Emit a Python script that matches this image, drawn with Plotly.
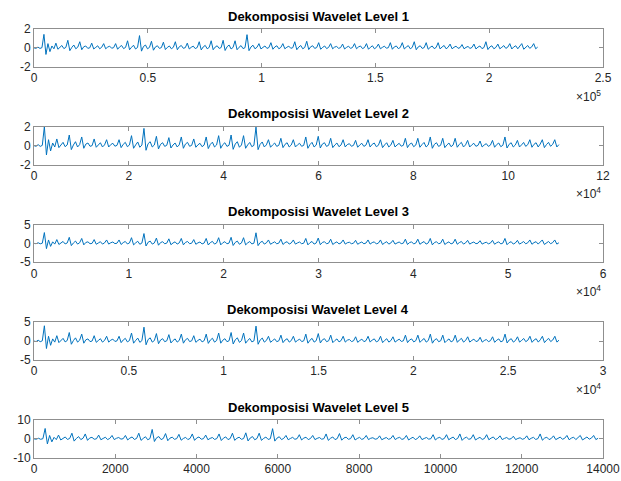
import numpy as np
import plotly.graph_objects as go

# ---------------- data ----------------
level1_samples = 221300
level1_values = [
    0.0, -0.05, 0.08, -0.06, 0.02,
    1.43, -0.7, 0.45, -0.4, 0.2, -0.1,
    0.5, -0.15, 0.1, 0.25, -0.08, 0.05,
    0.8, -0.3, 0.05, 0.3, -0.1, 0.08,
    0.65, -0.2, 0.12, 0.2, -0.05, 0.0,
    0.5, -0.12, 0.05, 0.22, -0.1, 0.06,
    0.45, -0.1, 0.08, 0.18, -0.04, 0.02,
    0.45, -0.15, 0.1, 0.25, -0.08, 0.05,
    0.75, -0.2, 0.06, 0.28, -0.12, 0.04,
    1.3, -0.35, 0.15, 0.3, -0.1, 0.05,
    0.7, -0.25, 0.1, 0.22, -0.06, 0.03,
    0.6, -0.18, 0.05, 0.2, -0.1, 0.06,
    0.65, -0.2, 0.12, 0.25, -0.05, 0.02,
    0.5, -0.12, 0.06, 0.18, -0.08, 0.04,
    0.65, -0.22, 0.1, 0.26, -0.1, 0.05,
    0.75, -0.2, 0.08, 0.22, -0.06, 0.03,
    0.8, -0.28, 0.12, 0.3, -0.12, 0.05,
    0.75, -0.2, 0.06, 0.24, -0.08, 0.02,
    1.4, -0.3, 0.1, 0.28, -0.1, 0.06,
    0.45, -0.12, 0.05, 0.2, -0.06, 0.03,
    0.55, -0.15, 0.1, 0.22, -0.1, 0.05,
    0.45, -0.1, 0.06, 0.18, -0.05, 0.02,
    0.65, -0.2, 0.08, 0.25, -0.1, 0.04,
    0.7, -0.18, 0.12, 0.22, -0.06, 0.03,
    0.55, -0.15, 0.05, 0.2, -0.08, 0.05,
    0.45, -0.1, 0.08, 0.15, -0.05, 0.02,
    0.4, -0.12, 0.05, 0.18, -0.06, 0.04,
    0.45, -0.1, 0.1, 0.2, -0.08, 0.03,
    0.45, -0.15, 0.06, 0.22, -0.1, 0.05,
    0.4, -0.1, 0.05, 0.18, -0.04, 0.02,
    0.55, -0.15, 0.1, 0.2, -0.08, 0.04,
    0.55, -0.12, 0.08, 0.24, -0.1, 0.05,
    0.65, -0.2, 0.1, 0.22, -0.06, 0.03,
    0.55, -0.15, 0.05, 0.2, -0.08, 0.04,
    0.55, -0.12, 0.1, 0.25, -0.1, 0.06,
    0.4, -0.1, 0.06, 0.18, -0.05, 0.02,
    0.35, -0.1, 0.05, 0.15, -0.06, 0.04,
    0.4, -0.12, 0.08, 0.2, -0.08, 0.03,
    0.65, -0.18, 0.1, 0.22, -0.1, 0.05,
    0.4, -0.1, 0.06, 0.24, -0.06, 0.08,
    0.45, -0.12, 0.1, 0.22, -0.1, 0.12,
    0.45, -0.15, 0.08, 0.25, -0.05, 0.1,
    0.45, -0.1, 0.08,
]

level2_samples = 110700
level2_values = [
    0.0, -0.07, 0.11, -0.08, 0.03,
    2.02, -0.99, 0.63, -0.56, 0.28, -0.14,
    0.71, -0.21, 0.14, 0.35, -0.11, 0.07,
    1.13, -0.42, 0.07, 0.42, -0.14, 0.11,
    0.92, -0.28, 0.17, 0.28, -0.07, 0.0,
    0.71, -0.17, 0.07, 0.31, -0.14, 0.08,
    0.63, -0.14, 0.11, 0.25, -0.06, 0.03,
    0.63, -0.21, 0.14, 0.35, -0.11, 0.07,
    1.06, -0.28, 0.08, 0.39, -0.17, 0.06,
    1.83, -0.49, 0.21, 0.42, -0.14, 0.07,
    0.99, -0.35, 0.14, 0.31, -0.08, 0.04,
    0.85, -0.25, 0.07, 0.28, -0.14, 0.08,
    0.92, -0.28, 0.17, 0.35, -0.07, 0.03,
    0.71, -0.17, 0.08, 0.25, -0.11, 0.06,
    0.92, -0.31, 0.14, 0.37, -0.14, 0.07,
    1.06, -0.28, 0.11, 0.31, -0.08, 0.04,
    1.13, -0.39, 0.17, 0.42, -0.17, 0.07,
    1.06, -0.28, 0.08, 0.34, -0.11, 0.03,
    1.97, -0.42, 0.14, 0.39, -0.14, 0.08,
    0.63, -0.17, 0.07, 0.28, -0.08, 0.04,
    0.78, -0.21, 0.14, 0.31, -0.14, 0.07,
    0.63, -0.14, 0.08, 0.25, -0.07, 0.03,
    0.92, -0.28, 0.11, 0.35, -0.14, 0.06,
    0.99, -0.25, 0.17, 0.31, -0.08, 0.04,
    0.78, -0.21, 0.07, 0.28, -0.11, 0.07,
    0.63, -0.14, 0.11, 0.21, -0.07, 0.03,
    0.56, -0.17, 0.07, 0.25, -0.08, 0.06,
    0.63, -0.14, 0.14, 0.28, -0.11, 0.04,
    0.63, -0.21, 0.08, 0.31, -0.14, 0.07,
    0.56, -0.14, 0.07, 0.25, -0.06, 0.03,
    0.78, -0.21, 0.14, 0.28, -0.11, 0.06,
    0.78, -0.17, 0.11, 0.34, -0.14, 0.07,
    0.92, -0.28, 0.14, 0.31, -0.08, 0.04,
    0.78, -0.21, 0.07, 0.28, -0.11, 0.06,
    0.78, -0.17, 0.14, 0.35, -0.14, 0.08,
    0.56, -0.14, 0.08, 0.25, -0.07, 0.03,
    0.49, -0.14, 0.07, 0.21, -0.08, 0.06,
    0.56, -0.17, 0.11, 0.28, -0.11, 0.04,
    0.92, -0.25, 0.14, 0.31, -0.14, 0.07,
    0.56, -0.14, 0.08, 0.34, -0.08, 0.11,
    0.63, -0.17, 0.14, 0.31, -0.14, 0.17,
    0.63, -0.21, 0.11, 0.35, -0.07, 0.14,
    0.63, -0.14, 0.11,
]

level3_samples = 55350
level3_values = [
    0.0, -0.1, 0.16, -0.12, 0.04,
    2.86, -1.4, 0.9, -0.8, 0.4, -0.2,
    1.0, -0.3, 0.2, 0.5, -0.16, 0.1,
    1.6, -0.6, 0.1, 0.6, -0.2, 0.16,
    1.3, -0.4, 0.24, 0.4, -0.1, 0.0,
    1.0, -0.24, 0.1, 0.44, -0.2, 0.12,
    0.9, -0.2, 0.16, 0.36, -0.08, 0.04,
    0.9, -0.3, 0.2, 0.5, -0.16, 0.1,
    1.5, -0.4, 0.12, 0.56, -0.24, 0.08,
    2.6, -0.7, 0.3, 0.6, -0.2, 0.1,
    1.4, -0.5, 0.2, 0.44, -0.12, 0.06,
    1.2, -0.36, 0.1, 0.4, -0.2, 0.12,
    1.3, -0.4, 0.24, 0.5, -0.1, 0.04,
    1.0, -0.24, 0.12, 0.36, -0.16, 0.08,
    1.3, -0.44, 0.2, 0.52, -0.2, 0.1,
    1.5, -0.4, 0.16, 0.44, -0.12, 0.06,
    1.6, -0.56, 0.24, 0.6, -0.24, 0.1,
    1.5, -0.4, 0.12, 0.48, -0.16, 0.04,
    2.8, -0.6, 0.2, 0.56, -0.2, 0.12,
    0.9, -0.24, 0.1, 0.4, -0.12, 0.06,
    1.1, -0.3, 0.2, 0.44, -0.2, 0.1,
    0.9, -0.2, 0.12, 0.36, -0.1, 0.04,
    1.3, -0.4, 0.16, 0.5, -0.2, 0.08,
    1.4, -0.36, 0.24, 0.44, -0.12, 0.06,
    1.1, -0.3, 0.1, 0.4, -0.16, 0.1,
    0.9, -0.2, 0.16, 0.3, -0.1, 0.04,
    0.8, -0.24, 0.1, 0.36, -0.12, 0.08,
    0.9, -0.2, 0.2, 0.4, -0.16, 0.06,
    0.9, -0.3, 0.12, 0.44, -0.2, 0.1,
    0.8, -0.2, 0.1, 0.36, -0.08, 0.04,
    1.1, -0.3, 0.2, 0.4, -0.16, 0.08,
    1.1, -0.24, 0.16, 0.48, -0.2, 0.1,
    1.3, -0.4, 0.2, 0.44, -0.12, 0.06,
    1.1, -0.3, 0.1, 0.4, -0.16, 0.08,
    1.1, -0.24, 0.2, 0.5, -0.2, 0.12,
    0.8, -0.2, 0.12, 0.36, -0.1, 0.04,
    0.7, -0.2, 0.1, 0.3, -0.12, 0.08,
    0.8, -0.24, 0.16, 0.4, -0.16, 0.06,
    1.3, -0.36, 0.2, 0.44, -0.2, 0.1,
    0.8, -0.2, 0.12, 0.48, -0.12, 0.16,
    0.9, -0.24, 0.2, 0.44, -0.2, 0.24,
    0.9, -0.3, 0.16, 0.5, -0.1, 0.2,
    0.9, -0.2, 0.16,
]

level4_samples = 27680
level4_values = [
    0.0, -0.14, 0.23, -0.17, 0.06,
    4.05, -1.98, 1.27, -1.13, 0.57, -0.28,
    1.42, -0.42, 0.28, 0.71, -0.23, 0.14,
    2.26, -0.85, 0.14, 0.85, -0.28, 0.23,
    1.84, -0.57, 0.34, 0.57, -0.14, 0.0,
    1.42, -0.34, 0.14, 0.62, -0.28, 0.17,
    1.27, -0.28, 0.23, 0.51, -0.11, 0.06,
    1.27, -0.42, 0.28, 0.71, -0.23, 0.14,
    2.12, -0.57, 0.17, 0.79, -0.34, 0.11,
    3.68, -0.99, 0.42, 0.85, -0.28, 0.14,
    1.98, -0.71, 0.28, 0.62, -0.17, 0.08,
    1.7, -0.51, 0.14, 0.57, -0.28, 0.17,
    1.84, -0.57, 0.34, 0.71, -0.14, 0.06,
    1.42, -0.34, 0.17, 0.51, -0.23, 0.11,
    1.84, -0.62, 0.28, 0.74, -0.28, 0.14,
    2.12, -0.57, 0.23, 0.62, -0.17, 0.08,
    2.26, -0.79, 0.34, 0.85, -0.34, 0.14,
    2.12, -0.57, 0.17, 0.68, -0.23, 0.06,
    3.96, -0.85, 0.28, 0.79, -0.28, 0.17,
    1.27, -0.34, 0.14, 0.57, -0.17, 0.08,
    1.56, -0.42, 0.28, 0.62, -0.28, 0.14,
    1.27, -0.28, 0.17, 0.51, -0.14, 0.06,
    1.84, -0.57, 0.23, 0.71, -0.28, 0.11,
    1.98, -0.51, 0.34, 0.62, -0.17, 0.08,
    1.56, -0.42, 0.14, 0.57, -0.23, 0.14,
    1.27, -0.28, 0.23, 0.42, -0.14, 0.06,
    1.13, -0.34, 0.14, 0.51, -0.17, 0.11,
    1.27, -0.28, 0.28, 0.57, -0.23, 0.08,
    1.27, -0.42, 0.17, 0.62, -0.28, 0.14,
    1.13, -0.28, 0.14, 0.51, -0.11, 0.06,
    1.56, -0.42, 0.28, 0.57, -0.23, 0.11,
    1.56, -0.34, 0.23, 0.68, -0.28, 0.14,
    1.84, -0.57, 0.28, 0.62, -0.17, 0.08,
    1.56, -0.42, 0.14, 0.57, -0.23, 0.11,
    1.56, -0.34, 0.28, 0.71, -0.28, 0.17,
    1.13, -0.28, 0.17, 0.51, -0.14, 0.06,
    0.99, -0.28, 0.14, 0.42, -0.17, 0.11,
    1.13, -0.34, 0.23, 0.57, -0.23, 0.08,
    1.84, -0.51, 0.28, 0.62, -0.28, 0.14,
    1.13, -0.28, 0.17, 0.68, -0.17, 0.23,
    1.27, -0.34, 0.28, 0.62, -0.28, 0.34,
    1.27, -0.42, 0.23, 0.71, -0.14, 0.28,
    1.27, -0.28, 0.23,
]

level5_samples = 13880
level5_values = [
    0.0, -0.2, 0.32, -0.24, 0.08,
    5.5, -2.7, 1.8, -1.6, 0.8, -0.4,
    2.0, -0.6, 0.4, 1.0, -0.32, 0.2,
    3.0, -1.2, 0.2, 1.2, -0.4, 0.32,
    2.6, -0.8, 0.48, 0.8, -0.2, 0.0,
    2.0, -0.48, 0.2, 0.88, -0.4, 0.24,
    1.8, -0.4, 0.32, 0.72, -0.16, 0.08,
    1.8, -0.6, 0.4, 1.0, -0.32, 0.2,
    3.0, -0.8, 0.24, 1.12, -0.48, 0.16,
    5.0, -1.4, 0.6, 1.2, -0.4, 0.2,
    2.8, -1.0, 0.4, 0.88, -0.24, 0.12,
    2.4, -0.72, 0.2, 0.8, -0.4, 0.24,
    2.6, -0.8, 0.48, 1.0, -0.2, 0.08,
    2.0, -0.48, 0.24, 0.72, -0.32, 0.16,
    2.6, -0.88, 0.4, 1.04, -0.4, 0.2,
    3.0, -0.8, 0.32, 0.88, -0.24, 0.12,
    3.2, -1.12, 0.48, 1.2, -0.48, 0.2,
    3.0, -0.8, 0.24, 0.96, -0.32, 0.08,
    5.4, -1.2, 0.4, 1.12, -0.4, 0.24,
    1.8, -0.48, 0.2, 0.8, -0.24, 0.12,
    2.2, -0.6, 0.4, 0.88, -0.4, 0.2,
    1.8, -0.4, 0.24, 0.72, -0.2, 0.08,
    2.6, -0.8, 0.32, 1.0, -0.4, 0.16,
    2.8, -0.72, 0.48, 0.88, -0.24, 0.12,
    2.2, -0.6, 0.2, 0.8, -0.32, 0.2,
    1.8, -0.4, 0.32, 0.6, -0.2, 0.08,
    1.6, -0.48, 0.2, 0.72, -0.24, 0.16,
    1.8, -0.4, 0.4, 0.8, -0.32, 0.12,
    1.8, -0.6, 0.24, 0.88, -0.4, 0.2,
    1.6, -0.4, 0.2, 0.72, -0.16, 0.08,
    2.2, -0.6, 0.4, 0.8, -0.32, 0.16,
    2.2, -0.48, 0.32, 0.96, -0.4, 0.2,
    2.6, -0.8, 0.4, 0.88, -0.24, 0.12,
    2.2, -0.6, 0.2, 0.8, -0.32, 0.16,
    2.2, -0.48, 0.4, 1.0, -0.4, 0.24,
    1.6, -0.4, 0.24, 0.72, -0.2, 0.08,
    1.4, -0.4, 0.2, 0.6, -0.24, 0.16,
    1.6, -0.48, 0.32, 0.8, -0.32, 0.12,
    2.6, -0.72, 0.4, 0.88, -0.4, 0.2,
    1.6, -0.4, 0.24, 0.96, -0.24, 0.32,
    1.8, -0.48, 0.4, 0.88, -0.4, 0.48,
    1.8, -0.6, 0.32, 1.0, -0.2, 0.4,
    1.8, -0.4, 0.32,
]

titles = ["Dekomposisi Wavelet Level 1", "Dekomposisi Wavelet Level 2",
          "Dekomposisi Wavelet Level 3", "Dekomposisi Wavelet Level 4",
          "Dekomposisi Wavelet Level 5"]

x_ranges = [250000, 120000, 60000, 30000, 14000]
x_tickvals = [
    [0, 50000, 100000, 150000, 200000, 250000],
    [0, 20000, 40000, 60000, 80000, 100000, 120000],
    [0, 10000, 20000, 30000, 40000, 50000, 60000],
    [0, 5000, 10000, 15000, 20000, 25000, 30000],
    [0, 2000, 4000, 6000, 8000, 10000, 12000, 14000],
]
x_ticktext = [
    ["0", "0.5", "1", "1.5", "2", "2.5"],
    ["0", "2", "4", "6", "8", "10", "12"],
    ["0", "1", "2", "3", "4", "5", "6"],
    ["0", "0.5", "1", "1.5", "2", "2.5", "3"],
    ["0", "2000", "4000", "6000", "8000", "10000", "12000", "14000"],
]
x_exponents = ["5", "4", "4", "4", None]
y_limits = [2, 2, 5, 5, 10]

levels = [
    (level1_samples, level1_values),
    (level2_samples, level2_values),
    (level3_samples, level3_values),
    (level4_samples, level4_values),
    (level5_samples, level5_values),
]

# ---------------- layout geometry ----------------
W, H = 621, 481
left_px, right_px = 34, 603
tops_px = [29, 126.8, 224.5, 322.2, 420]
box_h = 37.7
FONT = "Liberation Sans, Arial, Helvetica, sans-serif"
TXT = "#262626"
AX = "#8f8f8f"
LINE = "#0072BD"

fig = go.Figure()
layout = dict(
    width=W, height=H,
    margin=dict(l=0, r=0, t=0, b=0, autoexpand=False),
    paper_bgcolor="white", plot_bgcolor="white",
    showlegend=False,
    font=dict(family=FONT, size=12, color=TXT),
)
annotations = []

for i, (n_samples, vals) in enumerate(levels):
    k = i + 1
    xs = np.linspace(0, n_samples, len(vals))
    fig.add_trace(go.Scatter(
        x=xs, y=vals, mode="lines",
        line=dict(color=LINE, width=1),
        xaxis=f"x{k}", yaxis=f"y{k}", hoverinfo="skip",
    ))
    top = tops_px[i]
    bot = top + box_h
    ydom = [1 - bot / H, 1 - top / H]
    xdom = [left_px / W, right_px / W]
    xa = dict(
        domain=xdom, range=[0, x_ranges[i]], anchor=f"y{k}",
        tickmode="array", tickvals=x_tickvals[i], ticktext=x_ticktext[i],
        ticks="inside", ticklen=4, tickcolor=AX, tickwidth=1,
        showline=True, linecolor=AX, linewidth=1, mirror="ticks",
        showgrid=False, zeroline=False, automargin=False,
        tickfont=dict(family=FONT, size=12, color=TXT),
    )
    yl = y_limits[i]
    ya = dict(
        domain=ydom, range=[-yl, yl], anchor=f"x{k}",
        tickmode="array", tickvals=[-yl, 0, yl],
        ticktext=[f"{-yl}", "0", f"{yl}"],
        ticks="inside", ticklen=4, tickcolor=AX, tickwidth=1,
        showline=True, linecolor=AX, linewidth=1, mirror="ticks",
        showgrid=False, zeroline=False, automargin=False,
        tickfont=dict(family=FONT, size=12, color=TXT),
    )
    layout[f"xaxis{k}" if k > 1 else "xaxis"] = xa
    layout[f"yaxis{k}" if k > 1 else "yaxis"] = ya

    annotations.append(dict(
        text=f"<b>{titles[i]}</b>", xref="paper", yref="paper",
        x=(left_px + right_px) / 2 / W, y=1 - (top - 13) / H,
        xanchor="center", yanchor="middle", showarrow=False,
        font=dict(family=FONT, size=13, color="black"),
    ))
    if x_exponents[i]:
        annotations.append(dict(
            text=f"\u00d710<sup>{x_exponents[i]}</sup>", xref="paper", yref="paper",
            x=right_px / W, y=1 - (bot + 29) / H,
            xanchor="right", yanchor="middle", showarrow=False,
            font=dict(family=FONT, size=12, color=TXT),
        ))

layout["annotations"] = annotations
fig.update_layout(**layout)
fig.write_html(
    "out.html",
    config={"displayModeBar": False},
    post_script="document.body.style.margin='0px';document.body.style.padding='0px';",
)
